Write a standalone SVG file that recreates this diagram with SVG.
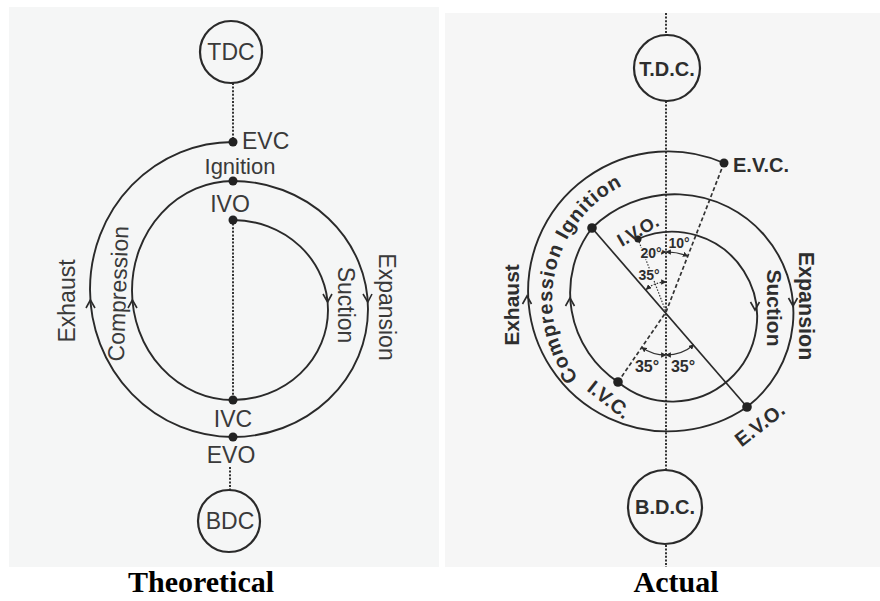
<svg xmlns="http://www.w3.org/2000/svg" width="880" height="601" viewBox="0 0 880 601">
  <defs>
    <style>
      .ln{fill:none;stroke:#2a2a2a;stroke-width:1.9}
      .dot{fill:none;stroke:#333;stroke-width:2;stroke-dasharray:2 1.6}
      .dash{fill:none;stroke:#333;stroke-width:1.7;stroke-dasharray:4 2.5}
      .thin{fill:none;stroke:#333;stroke-width:1.2}
      .thindot{fill:none;stroke:#333;stroke-width:1.2;stroke-dasharray:1.5 1.5}
      .chev{fill:none;stroke:#2a2a2a;stroke-width:1.6}
      .pt{fill:#222}
      .circ{fill:none;stroke:#2a2a2a;stroke-width:2.2}
      .lt{font-family:"Liberation Sans",Arial,sans-serif;font-size:23px;fill:#3a3a3a}
      .rt{font-family:"Liberation Sans",Arial,sans-serif;font-size:20px;font-weight:bold;fill:#2e2e2e}
      .ang{font-family:"Liberation Sans",Arial,sans-serif;font-weight:bold;fill:#2e2e2e;paint-order:stroke;stroke:#f6f6f6;stroke-width:2.5}
      .title{font-family:"Liberation Serif","Times New Roman",serif;font-size:30px;font-weight:bold;fill:#000}
    </style>
    <marker id="ah" viewBox="0 0 10 10" refX="9" refY="5" markerWidth="4.5" markerHeight="4.5" orient="auto-start-reverse">
      <path d="M0,0 L10,5 L0,10 z" fill="#2a2a2a"/>
    </marker>
    <path id="ciPath" d="M 578.5 377.9 A 128 128 0 0 1 636.2 179.7"/>
  </defs>

  <rect x="0" y="0" width="880" height="601" fill="#ffffff"/>
  <rect x="9" y="7" width="430" height="560" fill="#f5f6f6"/>
  <rect x="445" y="13" width="435" height="554" fill="#f6f6f6"/>

  <!-- ============ THEORETICAL ============ -->
  <g id="theoretical-connectors">
    <line class="dot" x1="233" y1="83" x2="233" y2="142"/>
    <line class="dot" x1="233" y1="220" x2="233" y2="400"/>
    <line class="dot" x1="230" y1="467" x2="230" y2="490"/>
    <path id="t-exhaust" class="ln" d="M 233 437 A 143 147.5 0 0 1 233 142"/>
    <path id="t-expansion" class="ln" d="M 233 181 A 135 128 0 0 1 233 437"/>
    <path id="t-compression" class="ln" d="M 233 400 A 101 109.5 0 0 1 233 181"/>
    <path id="t-suction" class="ln" d="M 233 220 A 95 90 0 0 1 233 400"/>
    <path class="chev" d="M 86 308 L 90.4 300 L 95 308"/>
    <path class="chev" d="M 128 308 L 132.4 300 L 137 308"/>
    <path class="chev" d="M 323 294 L 327.6 302 L 332 294"/>
    <path class="chev" d="M 363 294 L 367.8 302 L 372 294"/>
  </g>

  <g id="t-tdc">
    <circle class="circ" cx="231" cy="52" r="31"/>
    <text class="lt" x="231" y="60" text-anchor="middle">TDC</text>
  </g>
  <g id="t-evc">
    <circle class="pt" cx="233" cy="142" r="4.5"/>
    <text class="lt" x="242" y="149">EVC</text>
  </g>
  <g id="t-ignition">
    <circle class="pt" cx="233" cy="181" r="4.5"/>
    <text class="lt" x="240" y="174" text-anchor="middle" style="font-size:22px">Ignition</text>
  </g>
  <g id="t-ivo">
    <circle class="pt" cx="233" cy="220" r="4.5"/>
    <text class="lt" x="230" y="212" text-anchor="middle">IVO</text>
  </g>
  <g id="t-ivc">
    <circle class="pt" cx="233" cy="400" r="4.5"/>
    <text class="lt" x="233" y="427" text-anchor="middle">IVC</text>
  </g>
  <g id="t-evo">
    <circle class="pt" cx="233" cy="437" r="4.5"/>
    <text class="lt" x="231" y="463" text-anchor="middle">EVO</text>
  </g>
  <g id="t-bdc">
    <circle class="circ" cx="229" cy="521" r="31"/>
    <text class="lt" x="230" y="529" text-anchor="middle">BDC</text>
  </g>
  <g id="t-labels">
    <text class="lt" transform="translate(75,301) rotate(-90)" text-anchor="middle">Exhaust</text>
    <text class="lt" transform="translate(126,294) rotate(-88)" text-anchor="middle">Compression</text>
    <text class="lt" transform="translate(338,305) rotate(90)" text-anchor="middle">Suction</text>
    <text class="lt" transform="translate(379,307) rotate(90)" text-anchor="middle">Expansion</text>
  </g>
  <text class="title" x="201" y="592" text-anchor="middle">Theoretical</text>

  <!-- ============ ACTUAL ============ -->
  <g id="actual-connectors">
    <line class="dot" x1="666" y1="13" x2="666" y2="35"/>
    <line class="dot" x1="666" y1="101" x2="666" y2="470"/>
    <line class="dot" x1="666" y1="545" x2="666" y2="567"/>
    <path id="a-exhaust" class="ln" d="M 747 407 A 140 140 0 1 1 724 163"/>
    <path id="a-expansion" class="ln" d="M 592 228 A 118.6 118.6 0 1 1 747 407"/>
    <path id="a-compression" class="ln" d="M 618 382 A 107 107 0 0 1 592 228"/>
    <path id="a-suction" class="ln" d="M 638 239 A 84.9 84.9 0 1 1 618 382"/>
    <line class="ln" x1="592" y1="228" x2="747" y2="407" style="stroke-width:1.7"/>
    <polyline class="dash" points="724,163 666,312 618,382"/>
    <line class="thindot" x1="638" y1="239" x2="666" y2="312"/>
    <path class="chev" d="M 522.5 304 L 527 296 L 531.5 304"/>
    <path class="chev" d="M 565.5 306 L 570 298 L 574.5 306"/>
    <path class="chev" d="M 750.5 302 L 755 310 L 759.5 302"/>
    <path class="chev" d="M 788.5 298 L 793 306 L 797.5 298"/>
    <!-- angle arcs -->
    <path class="thin" d="M 666 252 A 60 60 0 0 1 687.8 256.1" marker-start="url(#ah)" marker-end="url(#ah)"/>
    <path class="thin" d="M 644.5 256 A 60 60 0 0 1 666 252" marker-start="url(#ah)" marker-end="url(#ah)"/>
    <path class="thindot" d="M 646.2 289.5 A 30 30 0 0 1 666 282" marker-start="url(#ah)" marker-end="url(#ah)"/>
    <path class="thin" d="M 641.7 347.4 A 43 43 0 0 0 666 355" marker-start="url(#ah)" marker-end="url(#ah)"/>
    <path class="thin" d="M 666 355 A 43 43 0 0 0 693.9 344.7" marker-start="url(#ah)" marker-end="url(#ah)"/>
  </g>

  <g id="a-tdc">
    <circle class="circ" cx="667" cy="68" r="33"/>
    <text class="rt" x="667" y="76" text-anchor="middle">T.D.C.</text>
  </g>
  <g id="a-evc">
    <circle class="pt" cx="724" cy="163" r="4.5"/>
    <text class="rt" x="733" y="172">E.V.C.</text>
  </g>
  <g id="a-ignition">
    <circle class="pt" cx="592" cy="228" r="4.8"/>
  </g>
  <g id="a-ivo">
    <circle class="pt" cx="638" cy="239" r="3.5"/>
    <text class="rt" transform="translate(641,236) rotate(-30)" text-anchor="middle" style="font-size:18px">I.V.O.</text>
  </g>
  <g id="a-ivc">
    <circle class="pt" cx="618" cy="382" r="4.8"/>
    <text class="rt" transform="translate(605,405) rotate(38)" text-anchor="middle">I.V.C.</text>
  </g>
  <g id="a-evo">
    <circle class="pt" cx="747" cy="407" r="4.8"/>
    <text class="rt" transform="translate(764,430) rotate(-38)" text-anchor="middle">E.V.O.</text>
  </g>
  <g id="a-bdc">
    <circle class="circ" cx="665" cy="507" r="37"/>
    <text class="rt" x="665" y="514" text-anchor="middle">B.D.C.</text>
  </g>
  <g id="a-labels">
    <text class="rt" style="font-size:20px;letter-spacing:1px"><textPath href="#ciPath">Compression Ignition</textPath></text>
    <text class="rt" transform="translate(519,305) rotate(-90)" text-anchor="middle" style="font-size:21px">Exhaust</text>
    <text class="rt" transform="translate(767,308) rotate(90)" text-anchor="middle" style="font-size:21px">Suction</text>
    <text class="rt" transform="translate(799,306) rotate(90)" text-anchor="middle" style="font-size:21.5px">Expansion</text>
    <text class="ang" x="679" y="248" text-anchor="middle" font-size="14">10°</text>
    <text class="ang" x="651" y="258" text-anchor="middle" font-size="14">20°</text>
    <text class="ang" x="649" y="280" text-anchor="middle" font-size="14">35°</text>
    <text class="ang" x="647" y="372" text-anchor="middle" font-size="16">35°</text>
    <text class="ang" x="683" y="372" text-anchor="middle" font-size="16">35°</text>
  </g>
  <text class="title" x="676" y="592" text-anchor="middle">Actual</text>
</svg>
